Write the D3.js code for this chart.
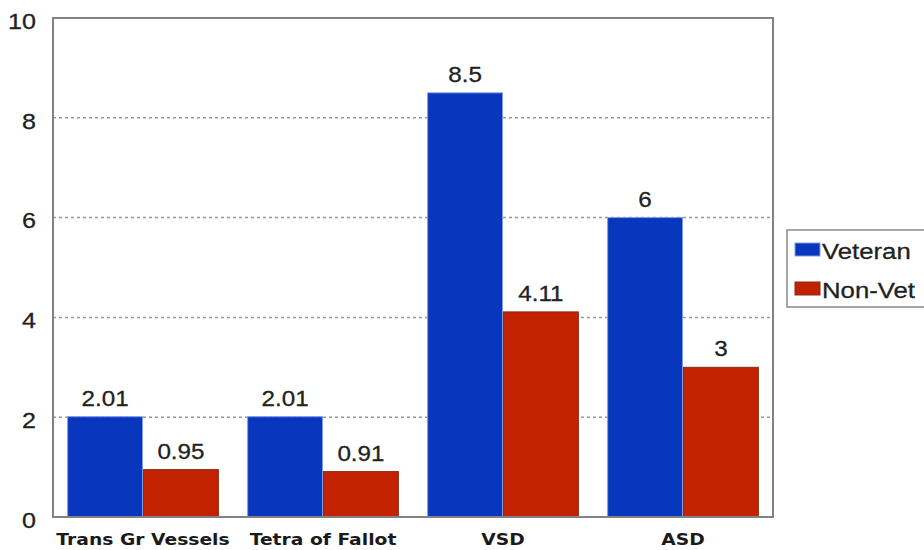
<!DOCTYPE html>
<html><head><meta charset="utf-8">
<script src="https://cdn.jsdelivr.net/npm/d3@7"></script>
<style>body{margin:0;background:#fff}svg{display:block}</style>
</head><body>
<svg id="c" width="924" height="550"></svg>
<script>
const categories = ["Trans Gr Vessels", "Tetra of Fallot", "VSD", "ASD"];
const seriesNames = ["Veteran", "Non-Vet"];
const veteran = [2.01, 2.01, 8.5, 6];
const nonVet = [0.95, 0.91, 4.11, 3];
const valueLabels = [["2.01","2.01","8.5","6"],["0.95","0.91","4.11","3"]];
const yTicks = [0, 2, 4, 6, 8, 10];
const colors = ["#0837bd", "#c22200"];
const strokes = ["#7f9be6", "#8a2a18"];

const svg = d3.select("#c");
const L = 53, R = 773, T = 18, B = 517;
const FONT = "Liberation Sans, Arial, sans-serif";
const x = d3.scaleBand().domain(categories).range([L, R]).paddingInner(0.157).paddingOuter(0.0785);
const xs = d3.scaleBand().domain([0,1]).range([0, x.bandwidth()]);
const y = d3.scaleLinear().domain([0, 10]).range([B, T]);

function stretch(sel, sx) {
  sel.each(function() {
    const t = d3.select(this);
    const ax = +(t.attr("x") || 0);
    t.attr("transform", `translate(${ax},0) scale(${sx},1) translate(${-ax},0)`);
  });
}

// grid
svg.append("g").selectAll("line").data(yTicks.filter(t => t > 0 && t < 10)).join("line")
  .attr("x1", L).attr("x2", R).attr("y1", d => y(d)).attr("y2", d => y(d))
  .attr("stroke", "#999").attr("stroke-width", 1.5).attr("stroke-dasharray", "3,3");

const data = [veteran, nonVet];
const g = svg.append("g");
data.forEach((vals, si) => {
  g.selectAll(".b" + si).data(vals).join("rect")
    .attr("x", (d, i) => x(categories[i]) + xs(si) + 0.5)
    .attr("y", d => y(d))
    .attr("width", xs.bandwidth() - 1)
    .attr("height", d => B - y(d))
    .attr("fill", colors[si]).attr("stroke", strokes[si]).attr("stroke-width", 1);
  const lbl = g.selectAll(".l" + si).data(vals).join("text")
    .attr("x", (d, i) => x(categories[i]) + xs(si) + xs.bandwidth() / 2)
    .attr("y", d => y(d) - 11)
    .attr("text-anchor", "middle")
    .attr("font-family", FONT)
    .attr("font-size", 22).attr("fill", "#222")
    .attr("stroke", "#222").attr("stroke-width", 0.3)
    .text((d, i) => valueLabels[si][i]);
  stretch(lbl, 1.1);
});

// frame
svg.append("rect").attr("x", L).attr("y", T).attr("width", R - L).attr("height", B - T)
  .attr("fill", "none").attr("stroke", "#828282").attr("stroke-width", 2);

// y axis labels
const yAxis = d3.axisLeft(y).tickValues(yTicks).tickSize(0).tickPadding(15);
const ya = svg.append("g").attr("transform", `translate(${L},0)`).call(yAxis);
ya.select(".domain").remove();
ya.selectAll("text").attr("font-family", FONT)
  .attr("font-size", 22).attr("fill", "#222").attr("stroke", "#222").attr("stroke-width", 0.3)
  .attr("dy", "0.47em").attr("transform", "scale(1.14,1)");

// x axis labels
const xAxis = d3.axisBottom(x).tickSize(0).tickPadding(17);
const xa = svg.append("g").attr("transform", `translate(0,${B})`).call(xAxis);
xa.select(".domain").remove();
xa.selectAll("text").attr("font-family", "DejaVu Sans, sans-serif").attr("font-weight", "bold")
  .attr("font-size", 16).attr("fill", "#1a1a1a").attr("dy", "0.71em")
  .attr("transform", "scale(1.17,1)");

// legend
const lg = svg.append("g");
lg.append("rect").attr("x", 787).attr("y", 230).attr("width", 145).attr("height", 77)
  .attr("fill", "#fff").attr("stroke", "#888").attr("stroke-width", 1.5);
seriesNames.forEach((n, i) => {
  const cy = 250 + i * 39;
  lg.append("rect").attr("x", 795).attr("y", cy - 7).attr("width", 25).attr("height", 13)
    .attr("fill", colors[i]).attr("stroke", strokes[i]);
  const t = lg.append("text").attr("x", 822).attr("y", cy + 9)
    .attr("font-family", FONT).attr("font-size", 23).attr("fill", "#222")
    .attr("stroke", "#222").attr("stroke-width", 0.3)
    .text(n);
  stretch(t, 1.12);
});
</script>
</body></html>
